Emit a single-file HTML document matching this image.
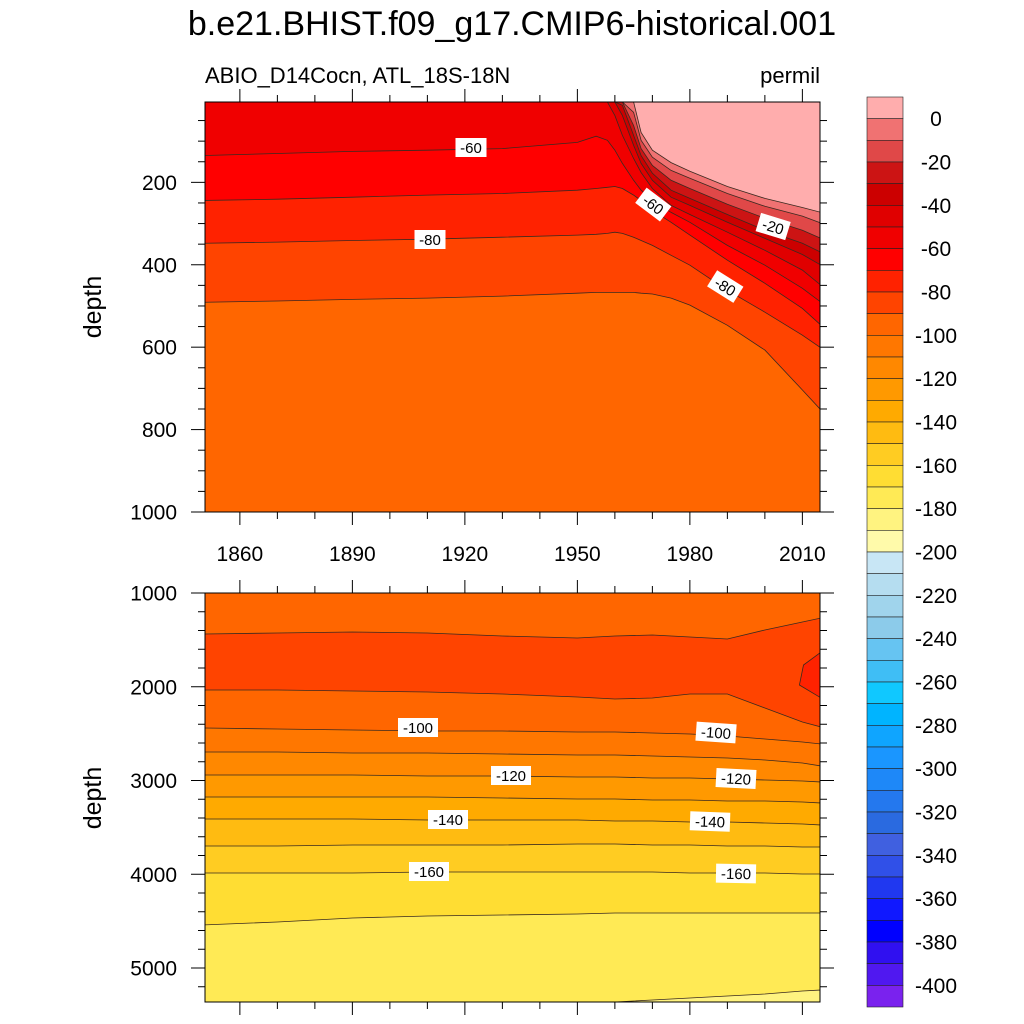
<!DOCTYPE html>
<html><head><meta charset="utf-8"><style>
html,body{margin:0;padding:0;background:#fff;}
svg{display:block;font-family:"Liberation Sans",sans-serif;}
</style></head><body>
<svg id="chart" width="1024" height="1024" viewBox="0 0 1024 1024" xmlns="http://www.w3.org/2000/svg">
<text x="512" y="35" font-size="34" text-anchor="middle">b.e21.BHIST.f09_g17.CMIP6-historical.001</text>
<text x="205" y="83" font-size="22">ABIO_D14Cocn, ATL_18S-18N</text>
<text x="820" y="83" font-size="22" text-anchor="end">permil</text>
<text transform="translate(101,307) rotate(-90)" font-size="25" text-anchor="middle">depth</text>
<text transform="translate(101,798) rotate(-90)" font-size="25" text-anchor="middle">depth</text>
<g id="top"></g><g id="bot"></g><g id="cbar"></g>
</svg>
<script>
// ---- data ----
const yrsT=[1850,1870,1890,1910,1930,1950,1955,1958,1960,1962,1965,1967,1970,1975,1980,1990,2000,2010,2015];
const levelsT=[0,-10,-20,-30,-40,-50,-60,-70,-80,-90];
const lineT0  =[5,5,5,5,5,5,5,5,5,5,5,79,122,152,173,210,239,261,273];
const lineTm10=[5,5,5,5,5,5,5,5,5,5,30,98,139,171,190,227,258,282,299];
const lineTm20=[5,5,5,5,5,5,5,5,5,5,62,118,159,195,215,253,287,316,336];
const lineTm30=[5,5,5,5,5,5,5,5,5,13,86,135,178,219,239,278,316,348,370];
const lineTm40=[5,5,5,5,5,5,5,5,5,38,110,154,195,236,256,297,336,375,401];
const lineTm50=[5,5,5,5,5,5,5,5,38,86,142,176,215,256,278,321,365,413,450];
const lineTm60=[135,130,125,122,118,103,88,98,122,154,195,219,244,273,297,353,401,457,491];
const lineTm70=[244,241,236,231,227,219,215,212,210,215,231,244,268,297,328,389,445,506,547];
const lineTm80=[348,345,341,338,333,328,326,324,321,324,333,341,353,377,401,462,515,571,602];
const lineTm90=[491,488,484,481,476,469,467,467,467,467,467,469,471,481,498,547,607,704,753];

const yrsB=[1850,1870,1890,1910,1930,1950,1960,1970,1980,1990,2000,2010,2015];
const levelsB=[-90,-90,-100,-110,-120,-130,-140,-150,-160,-170,-180];
const lineB90a=[1437,1427,1416,1427,1459,1480,1459,1448,1469,1491,1395,1309,1267];
const lineB90b=[2035,2035,2045,2056,2077,2109,2131,2120,2077,2077,2227,2376,2429];
const lineB100=[2440,2451,2461,2472,2472,2483,2483,2493,2504,2525,2557,2589,2611];
const lineB110=[2696,2696,2707,2707,2717,2728,2728,2739,2749,2760,2781,2813,2845];
const lineB120=[2941,2941,2941,2952,2952,2963,2963,2973,2973,2984,2995,3005,3016];
const lineB130=[3176,3176,3176,3176,3187,3197,3197,3208,3208,3219,3219,3229,3240];
const lineB140=[3411,3411,3411,3421,3421,3421,3432,3432,3443,3443,3453,3464,3475];
const lineB150=[3699,3699,3688,3688,3688,3677,3677,3688,3688,3699,3699,3709,3709];
const lineB160=[3987,3987,3987,3976,3976,3976,3976,3976,3987,3987,3987,3997,3997];
const lineB170=[4541,4509,4467,4445,4435,4424,4413,4413,4413,4413,4413,4413,4413];
const lineB180=[5375,5375,5375,5375,5375,5375,5363,5341,5320,5299,5277,5245,5235];
const blobB80=[[2015,1630],[2010.3,1768],[2009.2,1981],[2015,2120]];

const cbLevels=[0,-20,-40,-60,-80,-100,-120,-140,-160,-180,-200,-220,-240,-260,-280,-300,-320,-340,-360,-380,-400];
const cbColors=["#ffadad","#f07272","#e04848","#cc1414","#cc0000","#e00000","#f00000","#ff0000","#ff2200","#ff4400","#ff6600","#ff7700","#ff8800","#ff9900","#ffaa00","#ffbb11","#ffcc22","#ffdd33","#ffea55","#fff380","#fffaaa","#c8e6f5","#b5ddf0","#a0d4ec","#8ccbea","#66c4f2","#3fbef5","#10c8ff","#00b4ff","#0fa5ff","#1a96ff","#1e88f8","#2478ee","#2a6ae0","#4060e0","#3050e8","#2038f0","#1018ff","#0000ff","#3010f0","#5018f0","#7a22ee"];

const xTicks=[1860,1890,1920,1950,1980,2010];
const yTicksT=[200,400,600,800,1000];
const yTicksB=[1000,2000,3000,4000,5000];

// ---- scales ----
const X0=205,X1=820;
const x=yr=>X0+(yr-1850.7)*3.75;
const yT=d=>102+(Math.max(d,5)-5)*(410/995);
const yB=d=>593+(Math.min(d,5363)-1000)*0.09375;
const NS="http://www.w3.org/2000/svg";
function mk(tag,attrs,parent){const e=document.createElementNS(NS,tag);for(const k in attrs)e.setAttribute(k,attrs[k]);parent.appendChild(e);return e;}
function colorFor(lvl){return cbColors[Math.max(0,Math.floor(-lvl/10)+1)];}

function drawPanel(g,yTop,yBot,name){
  const clipId=name+'-clip';
  const cp=mk('clipPath',{id:clipId},g);
  mk('rect',{x:X0,y:yTop,width:X1-X0,height:yBot-yTop},cp);
  const inner=mk('g',{'clip-path':'url(#'+clipId+')'},g);
  
  
  return inner;
}
function linePts(yrs,arr,ys){return yrs.map((yr,i)=>[x(yr),ys(arr[i])]);}
function fillBelow(inner,pts,color,yBot,nm){
  const d='M'+pts.map(p=>p[0].toFixed(1)+','+p[1].toFixed(1)).join('L')+'L'+(X1+5)+','+(yBot+5)+'L'+(X0-5)+','+(yBot+5)+'Z';
  const p=mk('path',{d:d,fill:color,stroke:'none'},inner);
  
  
}
function stroke(inner,pts,nm){
  const p=mk('polyline',{points:pts.map(p=>p[0].toFixed(1)+','+p[1].toFixed(1)).join(' '),fill:'none',stroke:'#3a2a20','stroke-width':0.8},inner);
  
  
}
function label(g,txt,cx,cy,ang,nm){
  const gg=mk('g',{transform:'translate('+cx+','+cy+') rotate('+ang+')'},g);
  
  
  const w=txt.length*9+4;
  mk('rect',{x:-w/2,y:-10,width:w,height:19,fill:'#fff'},gg);
  const t=mk('text',{x:0,y:5,'font-size':15,'text-anchor':'middle'},gg);t.textContent=txt;
}
function frame(g,yTop,yBot,ys,majors,minStep,minFrom,minTo,name,showXLabels,xLabelY){
  const fr=mk('rect',{x:X0,y:yTop,width:X1-X0,height:yBot-yTop,fill:'none',stroke:'#000','stroke-width':1}, g);
  
  
  for(let yr=1860;yr<=2010;yr+=10){
    const maj=xTicks.includes(yr);const L=maj?13:7;const xx=x(yr);
    mk('line',{x1:xx,x2:xx,y1:yBot,y2:yBot+L,stroke:'#000','stroke-width':1},g);
    mk('line',{x1:xx,x2:xx,y1:yTop,y2:yTop-L,stroke:'#000','stroke-width':1},g);
  }
  for(let d=minFrom;d<=minTo;d+=minStep){
    const maj=majors.includes(d);const L=maj?14:7;const yy=ys(d);
    mk('line',{x1:X0,x2:X0-L,y1:yy,y2:yy,stroke:'#000','stroke-width':1},g);
    mk('line',{x1:X1,x2:X1+L,y1:yy,y2:yy,stroke:'#000','stroke-width':1},g);
  }
  majors.forEach(d=>{const t=mk('text',{x:X0-28,y:ys(d)+7.5,'font-size':21,'text-anchor':'end'},g);t.textContent=d;
    });
  if(showXLabels) xTicks.forEach(yr=>{const t=mk('text',{x:x(yr),y:xLabelY,'font-size':21,'text-anchor':'middle'},g);t.textContent=yr;
    });
}

// ---- top panel ----
const gT=document.getElementById('top');

const inT=drawPanel(gT,102,512,'top');
mk('rect',{x:X0,y:102,width:X1-X0,height:410,fill:colorFor(5)},inT);
const linesT=[lineT0,lineTm10,lineTm20,lineTm30,lineTm40,lineTm50,lineTm60,lineTm70,lineTm80,lineTm90];
linesT.forEach((arr,i)=>fillBelow(inT,linePts(yrsT,arr,yT),colorFor(levelsT[i]-5),512,'band-top-'+(-levelsT[i])));
linesT.forEach((arr,i)=>stroke(inT,linePts(yrsT,arr,yT),'contour-top-'+(-levelsT[i])));
label(gT,'-60',471,148,0,'label-top-60a');
label(gT,'-80',430,240,0,'label-top-80a');
label(gT,'-60',653,205,37,'label-top-60b');
label(gT,'-20',773,227,17,'label-top-20');
label(gT,'-80',725,287,32,'label-top-80b');
frame(gT,102,512,yT,yTicksT,50,50,1000,'top',true,561);

// ---- bottom panel ----
const gB=document.getElementById('bot');

const inB=drawPanel(gB,593,1002,'bottom');
mk('rect',{x:X0,y:593,width:X1-X0,height:409,fill:colorFor(-95)},inB);
const linesB=[lineB90a,lineB90b,lineB100,lineB110,lineB120,lineB130,lineB140,lineB150,lineB160,lineB170,lineB180];
const bandColsB=[colorFor(-85),colorFor(-95)];
linesB.forEach((arr,i)=>{
  const col=i<2?bandColsB[i]:colorFor(levelsB[i]-5);
  fillBelow(inB,linePts(yrsB,arr,yB),col,1002,'band-bottom-'+i);
  if(i===1){
    const bp=blobB80.map(p=>[x(p[0]),yB(p[1])]);
    const d='M'+bp.map(p=>p[0].toFixed(1)+','+p[1].toFixed(1)).join('L')+'L'+(X1+5)+','+yB(blobB80[3][1])+'L'+(X1+5)+','+yB(blobB80[0][1])+'Z';
    const p=mk('path',{d:d,fill:colorFor(-75),stroke:'none'},inB);
    
    
  }
});
linesB.forEach((arr,i)=>stroke(inB,linePts(yrsB,arr,yB),'contour-bottom-'+i));
stroke(inB,blobB80.map(p=>[x(p[0]),yB(p[1])]),'contour-bottom-80-blob');
label(gB,'-100',418,728,0,'label-bot-100a');label(gB,'-100',716,733,4,'label-bot-100b');
label(gB,'-120',511,776,0,'label-bot-120a');label(gB,'-120',736,779,3,'label-bot-120b');
label(gB,'-140',448,820,0,'label-bot-140a');label(gB,'-140',710,822,2,'label-bot-140b');
label(gB,'-160',429,872,0,'label-bot-160a');label(gB,'-160',736,874,1,'label-bot-160b');
frame(gB,593,1002,yB,yTicksB,200,1000,5200,'bottom',false,0);

// ---- colorbar ----
const gC=document.getElementById('cbar');

const CB0=97,CBH=910/cbColors.length;
cbColors.forEach((c,i)=>{
  const r=mk('rect',{x:867,y:CB0+i*CBH,width:36,height:CBH,fill:c,stroke:'#222','stroke-width':0.6},gC);
  
  
});
cbLevels.forEach(l=>{
  const idx=Math.round(-l/10)+1;
  const t=mk('text',{x:936,y:CB0+idx*CBH+7.5,'font-size':21,'text-anchor':'middle'},gC);t.textContent=l;
  
  
});
</script>
</body></html>
